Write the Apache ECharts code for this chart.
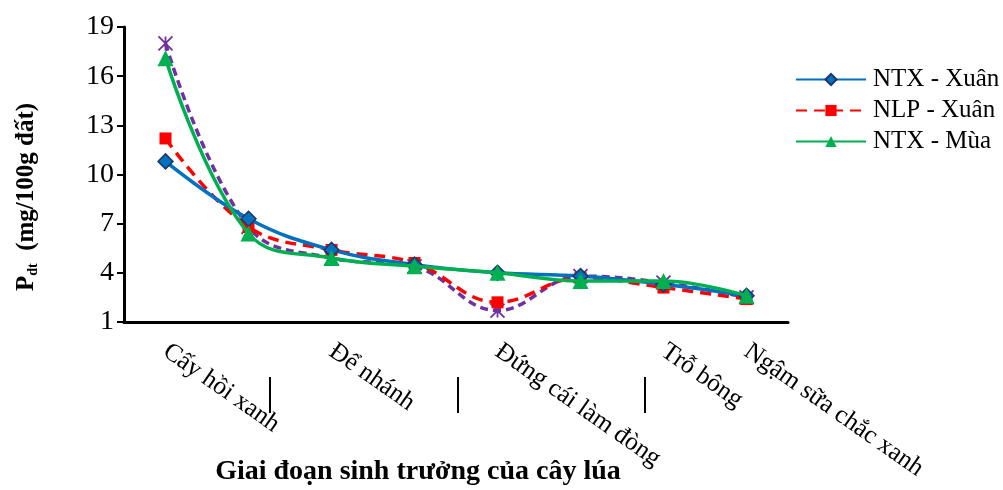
<!DOCTYPE html>
<html>
<head>
<meta charset="utf-8">
<script src="https://cdn.jsdelivr.net/npm/echarts@6/dist/echarts.min.js"></script>
<style>
html,body{margin:0;padding:0;background:#fff;}
#chart{width:1003px;height:490px;}
</style>
</head>
<body>
<div id="chart"></div>
<script>
// Categories (8 sampling stages; only some carry a label)
const categories = ['Cấy hồi xanh', 'c2', 'Để nhánh', 'c4', 'Đứng cái làm đòng', 'c6', 'Trỗ bông', 'Ngậm sữa chắc xanh'];
const categoryLabels = ['Cấy hồi xanh', '', 'Để nhánh', '', 'Đứng cái làm đòng', '', 'Trỗ bông', 'Ngậm sữa chắc xanh'];

// Series values (P_dt, mg/100g đất)
const ntxXuan = [10.8, 7.3, 5.4, 4.5, 4.0, 3.8, 3.3, 2.6];
const nlpXuan = [12.2, 6.8, 5.4, 4.6, 2.2, 3.7, 3.1, 2.4];
const ntxMua  = [17.1, 6.4, 4.9, 4.4, 4.0, 3.5, 3.5, 2.6];
const nlpMua  = [18.0, 6.8, 4.9, 4.4, 1.7, 3.8, 3.4, 2.5];

// Y ticks
const yMin = 1, yMax = 19, yStep = 3;

const serif = '"Liberation Serif", "Times New Roman", "DejaVu Serif", serif';
const chart = echarts.init(document.getElementById('chart'));

const asterisk = 'path://M0,0L10,10M10,0L0,10M5,0L5,10';

chart.setOption({
  animation: false,
  backgroundColor: '#fff',
  grid: { left: 124, right: 215, top: 27, bottom: 168, containLabel: false },
  legend: {
    left: 790, top: 62, orient: 'vertical',
    itemWidth: 70, itemHeight: 14, itemGap: 6,
    data: ['NTX - Xuân', 'NLP - Xuân', 'NTX - Mùa'],
    textStyle: { fontFamily: serif, fontSize: 25, color: '#000', padding: [0, 0, 0, 2] }
  },
  xAxis: {
    type: 'category',
    data: categories,
    boundaryGap: true,
    axisLine: { lineStyle: { color: '#000', width: 3 } },
    axisTick: { alignWithLabel: true, interval: 0, length: 6, lineStyle: { color: '#000', width: 2 } },
    axisLabel: {
      interval: 0, rotate: -35, margin: 27,
      fontFamily: serif, fontSize: 25.5, color: '#000',
      formatter: (v, i) => categoryLabels[i]
    }
  },
  yAxis: {
    type: 'value', min: yMin, max: yMax, interval: yStep,
    splitLine: { show: false },
    axisLine: { show: true, lineStyle: { color: '#000', width: 3 } },
    axisTick: { show: true, length: 7, lineStyle: { color: '#000', width: 2 } },
    axisLabel: { fontFamily: serif, fontSize: 28, color: '#000', margin: 10 }
  },
  graphic: [
    { type: 'line', shape: { x1: 270, y1: 377, x2: 270, y2: 413 }, style: { stroke: '#000', lineWidth: 2 } },
    { type: 'line', shape: { x1: 458, y1: 377, x2: 458, y2: 413 }, style: { stroke: '#000', lineWidth: 2 } },
    { type: 'line', shape: { x1: 645, y1: 377, x2: 645, y2: 413 }, style: { stroke: '#000', lineWidth: 2 } },
    { type: 'text', x: 418, y: 458, style: { text: 'Giai đoạn sinh trưởng của cây lúa', font: 'bold 28px ' + serif, fill: '#000', align: 'center', verticalAlign: 'top' } },
    {
      type: 'text', x: 27, y: 197, rotation: Math.PI / 2,
      style: {
        text: '{p|P}{s|dt}{t|  (mg/100g đất)}',
        align: 'center', verticalAlign: 'middle',
        rich: {
          p: { fontFamily: serif, fontSize: 25, fontWeight: 'bold', fill: '#000' },
          s: { fontFamily: serif, fontSize: 14, fontWeight: 'bold', fill: '#000', padding: [12, 0, 0, 0] },
          t: { fontFamily: serif, fontSize: 25, fontWeight: 'bold', fill: '#000' }
        }
      }
    }
  ],
  series: [
    {
      name: 'NLP - Mùa', type: 'line', data: nlpMua, smooth: 0.4, z: 1,
      symbol: asterisk, symbolSize: 14,
      lineStyle: { color: '#7030A0', width: 3.5, type: [8, 5] },
      itemStyle: { color: '#7030A0', borderColor: '#7030A0', borderWidth: 1.8 }
    },
    {
      name: 'NTX - Xuân', type: 'line', data: ntxXuan, smooth: 0.4, z: 3,
      symbol: 'diamond', symbolSize: 15,
      lineStyle: { color: '#0070C0', width: 3.5 },
      itemStyle: { color: '#0070C0', borderColor: '#1F3864', borderWidth: 1.5 }
    },
    {
      name: 'NLP - Xuân', type: 'line', data: nlpXuan, smooth: 0.4, z: 2,
      symbol: 'rect', symbolSize: 12,
      lineStyle: { color: '#FF0000', width: 3.5, type: [11, 7] },
      itemStyle: { color: '#FF0000' }
    },
    {
      name: 'NTX - Mùa', type: 'line', data: ntxMua, smooth: 0.4, z: 4,
      symbol: 'triangle', symbolSize: 16,
      lineStyle: { color: '#00B050', width: 3.5 },
      itemStyle: { color: '#00B050' }
    }
  ]
});
</script>
</body>
</html>
